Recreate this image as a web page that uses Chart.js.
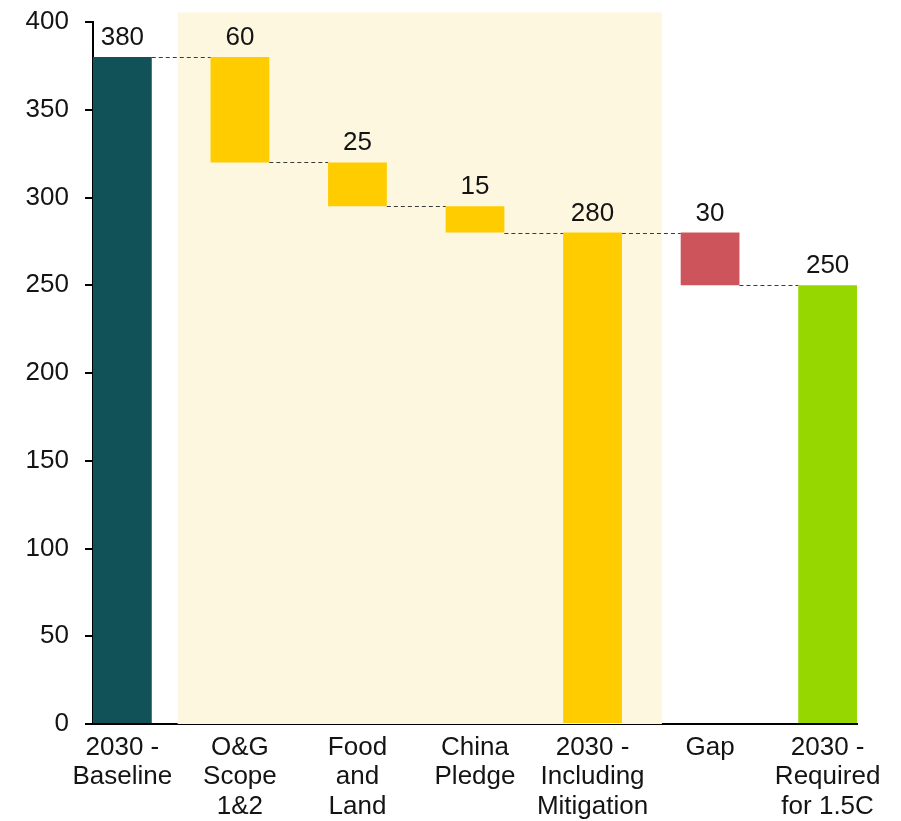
<!DOCTYPE html>
<html>
<head>
<meta charset="utf-8">
<script src="https://cdn.jsdelivr.net/npm/chart.js@4/dist/chart.umd.min.js"></script>
<style>
  html, body { margin: 0; padding: 0; background: #ffffff; }
  #wrap { width: 901px; height: 821px; }
</style>
</head>
<body>
<div id="wrap"><canvas id="waterfall" width="901" height="821"></canvas></div>
<script>
// waterfall steps: totals start from zero, the others move the running sum
var categories = [
    ['2030 -', 'Baseline'],
    ['O&G', 'Scope', '1&2'],
    ['Food', 'and', 'Land'],
    ['China', 'Pledge'],
    ['2030 -', 'Including', 'Mitigation'],
    ['Gap'],
    ['2030 -', 'Required', 'for 1.5C']
];
var stepValues = [380, -60, -25, -15, 280, -30, 250];
var isTotal = [true, false, false, false, true, false, true];
var barColors = ['#105257', '#FFCC00', '#FFCC00', '#FFCC00', '#FFCC00', '#CD545B', '#97D700'];
var yTicks = [0, 50, 100, 150, 200, 250, 300, 350, 400];

var FONT = '"Liberation Sans", Arial, sans-serif';
var TEXT = '#141414';

// floating ranges + the level each bar ends at
var ranges = [];
var levels = [];
var running = 0;
for (var i = 0; i < stepValues.length; i++) {
    var v = stepValues[i];
    if (isTotal[i]) {
        ranges.push({ x: i, y: [0, v] });
        running = v;
    } else {
        ranges.push({ x: i, y: [running + v, running] });
        running += v;
    }
    levels.push(running);
}

// mitigation block behind bars 1..4
var shadeBox = { x0: 0.47, x1: 4.59, y0: 0, y1: 405.5, color: '#FEF7E0' };

var shadePlugin = {
    id: 'shadePlugin',
    beforeDatasetsDraw: function (chart) {
        var c = chart.ctx, xs = chart.scales.x, ys = chart.scales.y;
        var l = xs.getPixelForValue(shadeBox.x0), r = xs.getPixelForValue(shadeBox.x1);
        var t = ys.getPixelForValue(shadeBox.y1), b = ys.getPixelForValue(shadeBox.y0);
        c.save();
        c.fillStyle = shadeBox.color;
        c.fillRect(l, t, r - l, b - t);
        c.restore();
    }
};

var waterfallPlugin = {
    id: 'waterfallPlugin',
    afterDatasetsDraw: function (chart) {
        var c = chart.ctx, ys = chart.scales.y;
        var bars = chart.getDatasetMeta(0).data;
        c.save();
        // dashed connectors between neighbouring bars
        c.strokeStyle = '#3a3a3a';
        c.lineWidth = 1;
        c.setLineDash([4, 3]);
        for (var k = 0; k < bars.length - 1; k++) {
            var yy = Math.round(ys.getPixelForValue(levels[k])) + 0.5;
            var x0 = bars[k].x + bars[k].width / 2;
            var x1 = bars[k + 1].x - bars[k + 1].width / 2;
            c.beginPath();
            c.moveTo(x0, yy);
            c.lineTo(x1, yy);
            c.stroke();
        }
        c.setLineDash([]);
        // value labels above each bar
        c.fillStyle = TEXT;
        c.font = '26px ' + FONT;
        c.textAlign = 'center';
        c.textBaseline = 'alphabetic';
        for (var j = 0; j < bars.length; j++) {
            var top = ys.getPixelForValue(ranges[j].y[1]);
            c.fillText(String(Math.abs(stepValues[j])), bars[j].x, top - 12);
        }
        c.restore();
    }
};

new Chart(document.getElementById('waterfall').getContext('2d'), {
    type: 'bar',
    data: {
        datasets: [{
            data: ranges,
            backgroundColor: barColors,
            borderWidth: 0,
            barPercentage: 0.5,
            categoryPercentage: 1
        }]
    },
    options: {
        responsive: false,
        animation: false,
        layout: { padding: { left: 0, right: 44, top: 22, bottom: 0 } },
        plugins: { legend: { display: false }, tooltip: { enabled: false } },
        scales: {
            x: {
                type: 'linear',
                min: -0.25,
                max: 6.25,
                offset: false,
                afterBuildTicks: function (scale) {
                    scale.ticks = categories.map(function (_, i) { return { value: i }; });
                },
                afterFit: function (scale) { scale.height = 97; },
                grid: { display: false, drawTicks: false, offset: false },
                border: { display: true, color: '#000000', width: 2 },
                ticks: {
                    autoSkip: false,
                    maxRotation: 0,
                    padding: 9,
                    color: TEXT,
                    font: { family: FONT, size: 26, lineHeight: 1.13 },
                    callback: function (value) { return categories[value]; }
                }
            },
            y: {
                min: 0,
                max: 400,
                afterBuildTicks: function (scale) {
                    scale.ticks = yTicks.map(function (t) { return { value: t }; });
                },
                afterFit: function (scale) {
                    scale.width = 93;
                    // label overhang is already covered by the layout padding
                    scale.paddingTop = 0;
                    scale.paddingBottom = 0;
                },
                grid: { drawOnChartArea: false, drawTicks: true, tickLength: 8, color: '#000000', lineWidth: 2 },
                border: { display: true, color: '#000000', width: 2 },
                ticks: {
                    padding: 16,
                    color: TEXT,
                    font: { family: FONT, size: 26 }
                }
            }
        }
    },
    plugins: [shadePlugin, waterfallPlugin]
});
</script>
</body>
</html>
